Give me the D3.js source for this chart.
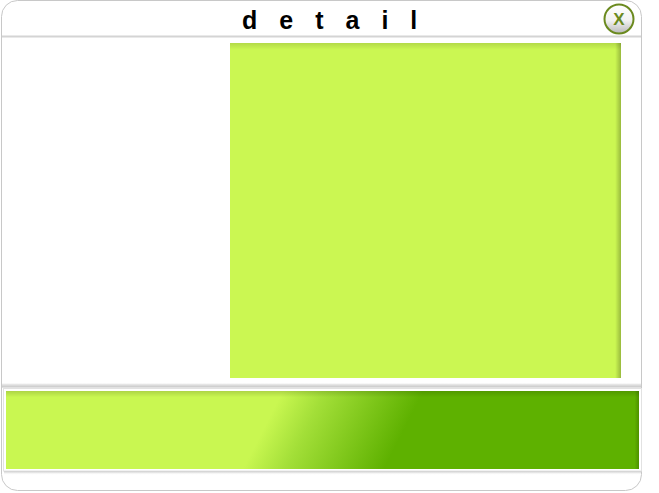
<!DOCTYPE html>
<html lang="en">
<head>
<meta charset="UTF-8">
<title>detail</title>
<script src="https://cdn.jsdelivr.net/npm/d3@7/dist/d3.min.js"></script>
<style>
    * { margin: 0; padding: 0; }
    body { background: #fff; }
</style>
</head>
<body>
<svg></svg>
<script>
    // panel content
    const titleLetters = ['d', 'e', 't', 'a', 'i', 'l'];
    const detailBars = ['detail'];
    const detailValues = [1];
    const sliderStops = [0, 0.3, 1];
    const sliderColors = ['#c9f751', '#a3df38', '#5eb100'];
    const closeLabel = 'X';

    const width = 659, height = 493;
    const svg = d3.select('svg').attr('width', width).attr('height', height);
    const defs = svg.append('defs');

    // layout scales (pixel frame of the panel)
    const x = d3.scaleLinear().domain([0, 1]).range([230, 621]);
    const y = d3.scaleBand().domain(detailBars).range([43, 378]).padding(0);
    const sx = d3.scaleLinear().domain([0, 1]).range([6, 639]);

    const grad = (id, x1, y1, x2, y2, stops, user) => {
        const g = defs.append('linearGradient').attr('id', id)
            .attr('x1', x1).attr('y1', y1).attr('x2', x2).attr('y2', y2);
        if (user) g.attr('gradientUnits', 'userSpaceOnUse');
        stops.forEach(s => g.append('stop').attr('offset', s[0]).attr('stop-color', s[1]).attr('stop-opacity', s[2] == null ? 1 : s[2]));
    };
    grad('rightShade', 0, 0, 1, 0, [[0.985, '#000', 0], [1, '#000', 0.25]]);
    grad('topShade', 0, 0, 0, 1, [[0, '#000', 0.12], [0.02, '#000', 0]]);
    grad('sepShade', 0, 0, 0, 1, [[0, '#f0f0f0'], [1, '#c4c4c4']]);
    grad('btn', 0, 0, 0, 1, [[0, '#ffffff'], [0.55, '#f2f2f2'], [1, '#b8b8b8']]);
    grad('slider', 268, 420, 380, 477, sliderStops.map((s, i) => [s, sliderColors[i]]), true);
    grad('sliderTop', 0, 0, 0, 1, [[0, '#000', 0.14], [0.08, '#000', 0]]);
    grad('sliderRight', 0, 0, 1, 0, [[0.993, '#000', 0], [1, '#000', 0.18]]);
    grad('frameShadow', 0, 0, 0, 1, [[0, '#bbb'], [1, '#fff', 0]]);

    // outer panel
    svg.append('rect').attr('x', 1.5).attr('y', 0.5).attr('width', 640).attr('height', 490)
        .attr('rx', 16).attr('fill', '#fff').attr('stroke', '#c8c8c8');
    svg.append('line').attr('x1', 2).attr('x2', 641).attr('y1', 36.5).attr('y2', 36.5)
        .attr('stroke', '#d4d4d4').attr('stroke-width', 2);

    // title
    svg.append('text').attr('x', 242).attr('y', 29)
        .attr('font-family', 'Liberation Sans, Arial, sans-serif').attr('font-weight', 'bold')
        .attr('font-size', 25).attr('letter-spacing', 22).attr('fill', '#000')
        .text(titleLetters.join(''));

    // close button
    const btn = svg.append('g').attr('transform', 'translate(619,19)');
    btn.append('circle').attr('r', 14.5).attr('fill', 'url(#btn)').attr('stroke', '#6b8a1f').attr('stroke-width', 2);
    btn.append('text').attr('y', 6).attr('text-anchor', 'middle')
        .attr('font-family', 'Liberation Sans, Arial, sans-serif').attr('font-weight', 'bold')
        .attr('font-size', 17).attr('fill', '#6b8a1f').text(closeLabel);

    // detail area
    const bars = svg.append('g');
    bars.selectAll('rect.main').data(detailValues).join('rect').attr('class', 'main')
        .attr('x', x(0)).attr('y', (d, i) => y(detailBars[i]))
        .attr('width', d => x(d) - x(0)).attr('height', y.bandwidth()).attr('fill', '#cbf752');
    ['rightShade', 'topShade'].forEach(id => {
        bars.selectAll('rect.' + id).data(detailValues).join('rect').attr('class', id)
            .attr('x', x(0)).attr('y', (d, i) => y(detailBars[i]))
            .attr('width', d => x(d) - x(0)).attr('height', y.bandwidth()).attr('fill', `url(#${id})`);
    });

    // separator
    svg.append('rect').attr('x', 2).attr('y', 383.5).attr('width', 639).attr('height', 4).attr('fill', 'url(#sepShade)');

    // slider frame
    svg.append('rect').attr('x', 4).attr('y', 471).attr('width', 637).attr('height', 4).attr('fill', 'url(#frameShadow)');
    svg.append('rect').attr('x', 3.5).attr('y', 388.5).attr('width', 638).attr('height', 82.5)
        .attr('fill', '#fff').attr('stroke', '#e2e2e2');
    ['slider', 'sliderTop', 'sliderRight'].forEach(id => {
        svg.append('rect').attr('x', sx(0)).attr('y', 391).attr('width', sx(1) - sx(0)).attr('height', 78)
            .attr('fill', `url(#${id})`);
    });
</script>
</body>
</html>
